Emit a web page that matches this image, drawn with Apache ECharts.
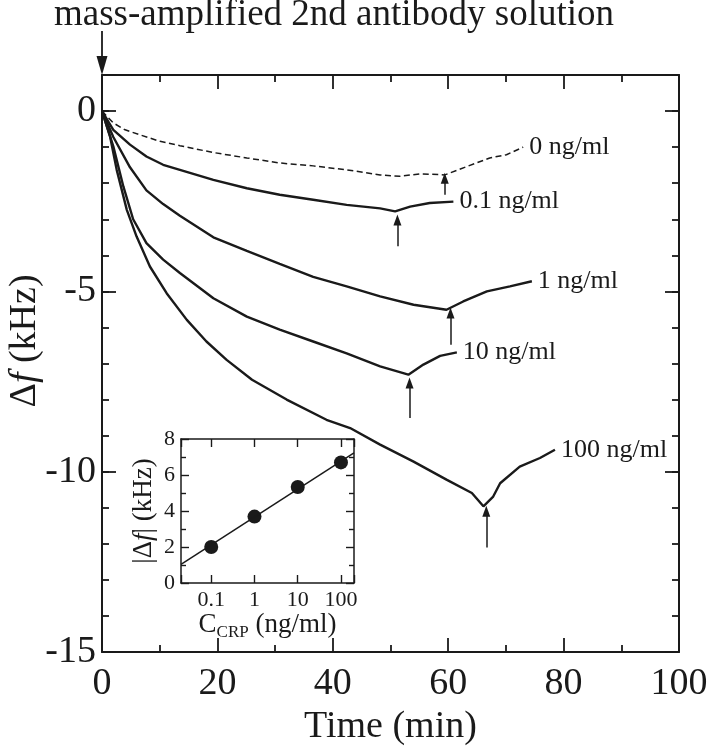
<!DOCTYPE html>
<html><head><meta charset="utf-8">
<script src="https://cdn.jsdelivr.net/npm/echarts@6/dist/echarts.min.js"></script>
<style>html,body{margin:0;padding:0;background:#fff}#c{width:709px;height:748px}</style>
</head><body><div id="c"></div>
<script>
// ---- data ----
const seriesNames = ['0 ng/ml', '0.1 ng/ml', '1 ng/ml', '10 ng/ml', '100 ng/ml'];
const time0 = [0, 1.96, 4, 6.6, 10.05, 13.5, 19.3, 25.1, 30.8, 36.6, 42.4, 48.2, 51.6, 55.1, 59.4, 63.2, 67.2, 70.1, 73.0];
const df0   = [0, -0.33, -0.52, -0.66, -0.84, -0.96, -1.15, -1.30, -1.44, -1.52, -1.63, -1.77, -1.81, -1.74, -1.77, -1.54, -1.30, -1.21, -1.0];
const time01 = [0, 1.96, 4.85, 7.7, 10.6, 13.5, 19.3, 25.1, 30.8, 36.6, 42.4, 48.2, 50.8, 53.4, 56.8, 60.9];
const df01   = [0, -0.52, -0.93, -1.26, -1.49, -1.63, -1.91, -2.14, -2.32, -2.46, -2.60, -2.70, -2.78, -2.65, -2.55, -2.51];
const time1 = [0, 1.96, 4.85, 7.7, 10.6, 13.5, 19.3, 25.1, 30.8, 36.6, 42.4, 48.2, 54.0, 59.7, 62.6, 66.7, 70.7, 74.5];
const df1   = [0, -0.72, -1.56, -2.2, -2.58, -2.9, -3.5, -3.88, -4.24, -4.6, -4.86, -5.14, -5.37, -5.51, -5.28, -5.00, -4.86, -4.72];
const time10 = [0, 1.96, 3.7, 5.4, 7.7, 10.6, 13.5, 19.3, 25.1, 30.8, 36.6, 42.4, 48.2, 53.1, 55.7, 58.6, 61.5];
const df10   = [0, -0.98, -2.09, -3.0, -3.66, -4.12, -4.49, -5.19, -5.70, -6.06, -6.39, -6.72, -7.08, -7.31, -7.03, -6.79, -6.69];
const time100 = [0, 1.39, 2.55, 4.3, 6.0, 8.3, 11.2, 14.7, 18.1, 21.6, 26, 32.0, 38.9, 43.0, 48.2, 54.0, 59.7, 64.1, 66.1, 67.8, 69.0, 72.4, 75.9, 78.5];
const df100   = [0, -0.70, -1.63, -2.74, -3.48, -4.31, -5.05, -5.79, -6.39, -6.90, -7.45, -8.0, -8.56, -8.79, -9.25, -9.72, -10.22, -10.59, -10.96, -10.69, -10.32, -9.86, -9.62, -9.39];
const arrowTime = [59.4, 51.2, 60.4, 53.3, 66.6];
const arrowTip  = [-1.86, -3.02, -5.6, -7.54, -11.1];
const arrowTail = [-2.32, -3.75, -6.48, -8.51, -12.1];
const insetConc  = [0.1, 1, 10, 100];
const insetDelta = [2.0, 3.69, 5.33, 6.70];
const fitConc  = [0.02, 200];
const fitDelta = [1.04, 7.23];
const titleText = 'mass-amplified 2nd antibody solution';

// ---- chart ----
const FF = 'Liberation Serif';
const INK = '#1a1a1a';
const times = [time0, time01, time1, time10, time100];
const dfs = [df0, df01, df1, df10, df100];
const zip = (a, b) => a.map((x, i) => [x, b[i]]);

const lineAxis = { show: true, onZero: false, lineStyle: { color: INK, width: 2 } };
const noLabel = { show: false };
const majTick = { inside: true, length: 14, lineStyle: { color: INK, width: 1.8 } };
const minTick = { inside: true, length: 7, lineStyle: { color: INK, width: 1.8 } };
const xMinor = { show: true, splitNumber: 2, length: 7, lineStyle: { color: INK, width: 1.8 } };
const inLine = { show: true, onZero: false, lineStyle: { color: INK, width: 1.5 } };
const inTick = { inside: true, length: 8, lineStyle: { color: INK, width: 1.4 } };
const inMinor = { show: true, splitNumber: 2, length: 5, lineStyle: { color: INK, width: 1.4 } };

const mainSeries = seriesNames.map((name, i) => ({
  type: 'line', name, xAxisIndex: 0, yAxisIndex: 0,
  data: zip(times[i], dfs[i]),
  showSymbol: false, symbol: 'none', smooth: false, silent: true,
  lineStyle: { color: INK, width: i === 0 ? 1.5 : 2.4, type: i === 0 ? [6, 3.5] : 'solid' },
  endLabel: { show: true, formatter: name, color: INK, fontFamily: FF, fontSize: 26, distance: 6 },
  markLine: {
    silent: true, symbol: ['none', 'triangle'], symbolSize: [8, 11],
    label: { show: false },
    lineStyle: { color: INK, width: 1.5, type: 'solid' },
    emphasis: { disabled: true },
    data: [[{ coord: [arrowTime[i], arrowTail[i]] }, { coord: [arrowTime[i], arrowTip[i]] }]]
  }
}));

const option = {
  animation: false,
  backgroundColor: '#fff',
  grid: [
    { left: 102, right: 30, top: 75, bottom: 96, outerBoundsMode: 'none', containLabel: false },
    { left: 181, top: 439, width: 173, height: 144, outerBoundsMode: 'none', containLabel: false }
  ],
  xAxis: [
    { gridIndex: 0, type: 'value', min: 0, max: 100, interval: 20, position: 'bottom',
      axisLine: lineAxis, axisTick: majTick, minorTick: xMinor,
      axisLabel: { color: INK, fontFamily: FF, fontSize: 38, margin: 13 },
      splitLine: { show: false },
      name: 'Time (min)', nameLocation: 'middle', nameGap: 51,
      nameTextStyle: { color: INK, fontFamily: FF, fontSize: 38 } },
    { gridIndex: 0, type: 'value', min: 0, max: 100, interval: 20, position: 'top',
      axisLine: lineAxis, axisTick: majTick, minorTick: xMinor,
      axisLabel: noLabel, splitLine: { show: false } },
    { gridIndex: 1, type: 'log', logBase: 10, min: 0.02, max: 200, position: 'bottom',
      axisLine: inLine, axisTick: inTick,
      axisLabel: { color: INK, fontFamily: FF, fontSize: 22, margin: 6,
        formatter: v => { const l = Math.log10(v); return Math.abs(l - Math.round(l)) < 1e-6 ? String(+Math.pow(10, Math.round(l)).toPrecision(3)) : ''; } },
      splitLine: { show: false },
      name: '{n|C}{s|CRP}{n| (ng/ml)}', nameLocation: 'middle', nameGap: 20,
      nameTextStyle: { rich: {
        n: { fontFamily: FF, fontSize: 27, color: INK, verticalAlign: 'top' },
        s: { fontFamily: FF, fontSize: 17, color: INK, verticalAlign: 'top', padding: [12, 0, 0, 0] } } } },
    { gridIndex: 1, type: 'log', logBase: 10, min: 0.02, max: 200, position: 'top',
      axisLine: inLine, axisTick: inTick, axisLabel: noLabel, splitLine: { show: false } }
  ],
  yAxis: [
    { gridIndex: 0, type: 'value', min: -15, max: 1, interval: 5, position: 'left',
      axisLine: lineAxis, axisTick: majTick,
      axisLabel: { color: INK, fontFamily: FF, fontSize: 38, margin: 6,
        formatter: v => (v % 5 === 0 ? String(v) : '') },
      splitLine: { show: false } },
    { gridIndex: 0, type: 'value', min: -15, max: 1, interval: 1, position: 'left',
      axisLine: { show: false, onZero: false }, axisTick: minTick,
      axisLabel: noLabel, splitLine: { show: false } },
    { gridIndex: 0, type: 'value', min: -15, max: 1, interval: 5, position: 'right',
      axisLine: lineAxis, axisTick: majTick,
      axisLabel: noLabel, splitLine: { show: false } },
    { gridIndex: 0, type: 'value', min: -15, max: 1, interval: 1, position: 'right',
      axisLine: { show: false, onZero: false }, axisTick: minTick,
      axisLabel: noLabel, splitLine: { show: false } },
    { gridIndex: 1, type: 'value', min: 0, max: 8, interval: 2, position: 'left',
      axisLine: inLine, axisTick: inTick, minorTick: inMinor,
      axisLabel: { color: INK, fontFamily: FF, fontSize: 22, margin: 6 },
      splitLine: { show: false },
      name: '{n||Δ}{i|f}{n|| (kHz)}', nameLocation: 'middle', nameGap: 24, nameRotate: 90,
      nameTextStyle: { rich: {
        n: { fontFamily: FF, fontSize: 27, color: INK },
        i: { fontFamily: FF, fontSize: 27, color: INK, fontStyle: 'italic' } } } },
    { gridIndex: 1, type: 'value', min: 0, max: 8, interval: 2, position: 'right',
      axisLine: inLine, axisTick: inTick, minorTick: inMinor,
      axisLabel: noLabel, splitLine: { show: false } }
  ],
  series: mainSeries.concat([
    { type: 'line', name: 'fit', xAxisIndex: 2, yAxisIndex: 4, data: zip(fitConc, fitDelta),
      showSymbol: false, symbol: 'none', silent: true, lineStyle: { color: INK, width: 1.5 } },
    { type: 'scatter', name: 'points', xAxisIndex: 2, yAxisIndex: 4, data: zip(insetConc, insetDelta),
      symbol: 'circle', symbolSize: 14, silent: true, itemStyle: { color: INK, opacity: 1 } }
  ])
};

const chart = echarts.init(document.getElementById('c'), null, { renderer: 'canvas' });
chart.setOption(option);

// annotations: title, y-axis name, injection arrow at t = 0
const p = chart.convertToPixel({ xAxisIndex: 1, yAxisIndex: 0 }, [0, 1]);
chart.setOption({
  graphic: [
    { type: 'text', x: 54, y: 15, silent: true,
      style: { text: titleText, fontFamily: FF, fontSize: 37, fill: INK, align: 'left', verticalAlign: 'middle' } },
    { type: 'text', x: 25, y: 341, rotation: Math.PI / 2, silent: true,
      style: { text: 'Δ{i|f} (kHz)', fontFamily: FF, fontSize: 38, fill: INK, align: 'center', verticalAlign: 'middle',
        rich: { i: { fontFamily: FF, fontSize: 38, fontStyle: 'italic', fill: INK } } } },
    { type: 'line', silent: true, shape: { x1: p[0], y1: p[1] - 44, x2: p[0], y2: p[1] - 16 },
      style: { stroke: INK, lineWidth: 1.8 } },
    { type: 'polygon', silent: true, shape: { points: [[p[0] - 5.5, p[1] - 19], [p[0] + 5.5, p[1] - 19], [p[0], p[1]]] },
      style: { fill: INK } }
  ]
});
</script></body></html>
